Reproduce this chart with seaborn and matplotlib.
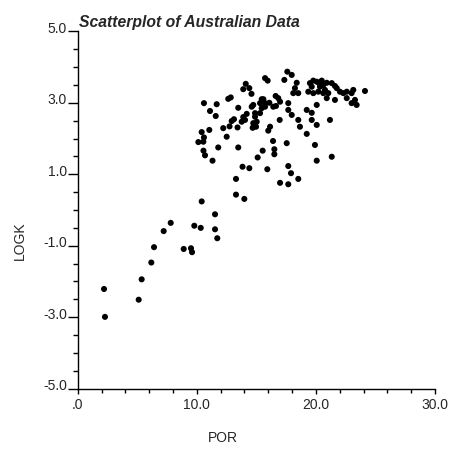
import matplotlib
matplotlib.use("Agg")
import matplotlib.pyplot as plt
import matplotlib.transforms as mtransforms
import seaborn as sns
import pandas as pd

# Data
por = [
    17.60, 17.97, 17.35, 18.39, 15.73, 15.95, 14.11, 13.90, 14.41, 14.59,
    15.45, 15.31, 15.73, 16.62, 16.84, 16.99, 16.42, 16.65, 15.73, 16.09,
    15.45, 14.74, 14.61, 12.85, 12.64, 10.60, 11.67, 11.11, 11.59, 13.48,
    14.19, 13.90, 14.89, 15.31, 14.89, 15.03, 14.97, 14.69, 13.77, 13.12,
    12.93, 12.75, 13.42, 12.22, 12.51, 11.05, 10.41, 10.60, 10.13, 10.55,
    11.80, 10.56, 10.69, 11.32, 13.48, 13.84, 14.41, 13.29, 13.29, 13.99,
    10.41, 15.92, 15.11, 15.53, 16.51, 16.51, 16.40, 17.55, 16.96, 16.00,
    16.15, 17.68, 17.68, 17.97, 18.52, 18.66, 19.23, 19.23, 19.65, 20.07,
    19.65, 20.07, 19.92, 20.07, 21.33, 21.18, 17.68, 17.91, 18.52, 16.99,
    17.68, 18.24, 18.52, 18.10, 15.59, 14.05, 14.74,
    19.50, 19.65, 19.78, 20.07, 20.28, 20.49, 20.34, 20.62, 20.91, 21.33,
    21.60, 20.76, 20.20, 19.78, 20.91, 21.60, 22.02, 22.30, 22.59, 23.00,
    23.14, 23.28, 22.59, 23.42, 23.00, 21.75, 21.04, 19.36, 20.62, 24.12,
    11.53, 11.53, 11.72, 9.79, 10.33, 7.81, 7.22, 6.41, 6.18, 5.37,
    5.12, 8.90, 9.51, 9.60, 2.21, 2.29,
]
logk = [
    3.87, 3.78, 3.64, 3.56, 3.69, 3.62, 3.53, 3.38, 3.41, 3.25,
    3.10, 2.99, 2.99, 3.19, 3.13, 3.03, 2.89, 2.91, 2.89, 3.00,
    2.85, 2.94, 2.89, 3.15, 3.11, 2.99, 2.96, 2.77, 2.63, 2.86,
    2.69, 2.60, 2.71, 2.71, 2.61, 2.47, 2.33, 2.30, 2.47, 2.54,
    2.49, 2.34, 2.31, 2.29, 2.05, 2.24, 2.18, 2.03, 1.90, 1.91,
    1.75, 1.66, 1.53, 1.38, 1.75, 1.21, 1.17, 0.87, 0.43, 0.31,
    0.24, 1.14, 1.47, 1.66, 1.70, 1.56, 1.93, 1.87, 2.52, 2.22,
    2.33, 2.99, 2.80, 2.66, 2.52, 2.33, 2.13, 2.80, 2.72, 2.94,
    2.52, 2.38, 1.82, 1.38, 1.49, 2.52, 1.23, 1.03, 0.87, 0.76,
    0.72, 3.41, 3.27, 3.27, 3.10, 2.52, 2.43,
    3.55, 3.45, 3.62, 3.59, 3.55, 3.62, 3.45, 3.50, 3.56, 3.55,
    3.47, 3.36, 3.31, 3.27, 3.13, 3.08, 3.31, 3.27, 3.31, 3.27,
    3.36, 3.08, 3.13, 2.94, 2.99, 3.41, 3.27, 3.31, 3.27, 3.33,
    -0.12, -0.54, -0.79, -0.44, -0.50, -0.36, -0.59, -1.04, -1.47, -1.94,
    -2.51, -1.09, -1.07, -1.18, -2.21, -2.99,
]

x_ticks = [0, 10, 20, 30]
x_ticklabels = [".0", "10.0", "20.0", "30.0"]
y_ticks = [-5, -3, -1, 1, 3, 5]
y_ticklabels = ["-5.0", "-3.0", "-1.0", "1.0", "3.0", "5.0"]
title = "Scatterplot of Australian Data"
x_label = "POR"
y_label = "LOGK"

df = pd.DataFrame({"POR": por, "LOGK": logk})

sns.set_style("ticks")
plt.rcParams["font.family"] = ["Liberation Sans", "DejaVu Sans"]

fig = plt.figure(figsize=(4.5, 4.54), dpi=100)
ax = fig.add_axes([77.7 / 450, 1 - 388.7 / 454, (435 - 77.7) / 450, (388.7 - 31.3) / 454])

sns.scatterplot(data=df, x="POR", y="LOGK", ax=ax, color="black", s=19,
                linewidth=0, edgecolor="none", clip_on=False)

ax.set_xlim(0, 30)
ax.set_ylim(-5, 5)
ax.set_xticks(x_ticks)
ax.set_xticklabels(x_ticklabels)
ax.set_yticks(y_ticks)
ax.set_yticklabels(y_ticklabels)
ax.set_xticks([v for v in range(0, 31, 2) if v not in x_ticks], minor=True)
ax.set_yticks([v / 2 for v in range(-10, 11) if (v / 2) not in y_ticks], minor=True)
ax.set_xlabel("")
ax.set_ylabel("")

for s in ["top", "right"]:
    ax.spines[s].set_visible(False)
for s in ["left", "bottom"]:
    ax.spines[s].set_linewidth(1.0)
    ax.spines[s].set_color("black")

ax.tick_params(axis="x", which="major", length=3.4, width=1.0, color="black",
               labelsize=10, pad=3.5, direction="out")
ax.tick_params(axis="x", which="minor", length=2.6, width=1.0, color="black", direction="out")
ax.tick_params(axis="y", which="major", length=7.2, width=1.0, color="black",
               labelsize=10, pad=0.5, direction="out")
ax.tick_params(axis="y", which="minor", length=3.6, width=1.0, color="black", direction="out")

offset = mtransforms.ScaledTranslation(0, 4 / 100, fig.dpi_scale_trans)
for lab in ax.get_yticklabels():
    lab.set_transform(lab.get_transform() + offset)

fig.text(79 / 450, 1 - 26.7 / 454, title, fontsize=11.3, fontweight="bold",
         fontstyle="italic", ha="left", va="baseline")
fig.text(223 / 450, 1 - 438 / 454, x_label, fontsize=10, ha="center", va="center")
fig.text(19.5 / 450, 1 - 241 / 454, y_label, fontsize=10, ha="center", va="center",
         rotation=90)

fig.savefig("out.png", dpi=100)
